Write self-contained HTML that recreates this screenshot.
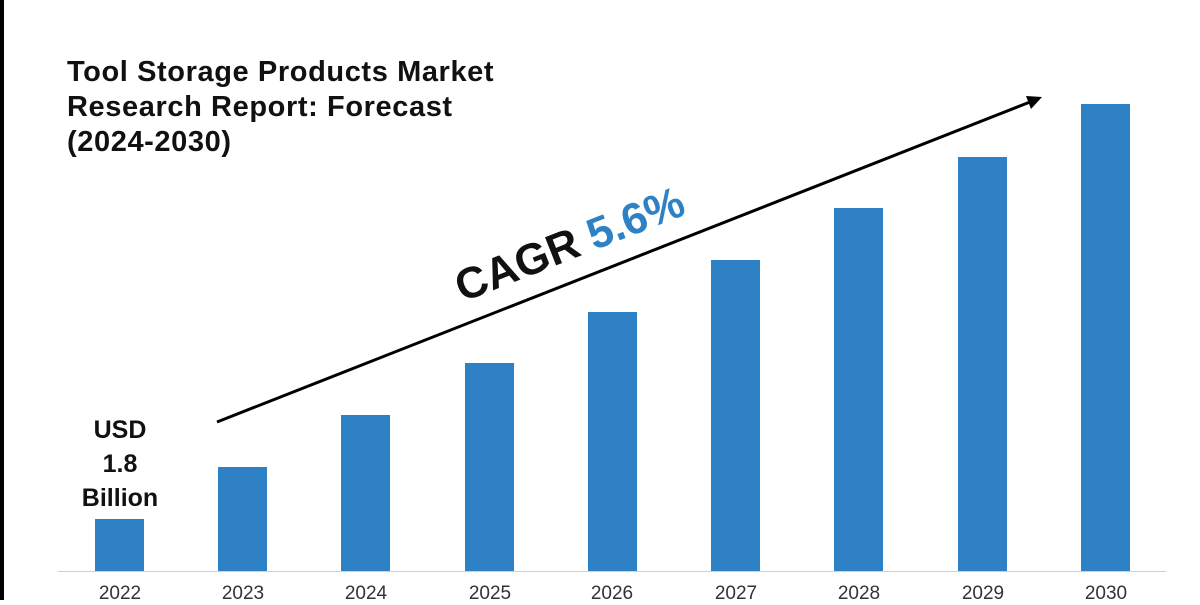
<!DOCTYPE html>
<html><head><style>
body{margin:0;width:1200px;height:600px;background:#fff;overflow:hidden;position:relative;font-family:"Liberation Sans",sans-serif}
.bar{position:absolute;background:#2e81c4;width:49px;bottom:29px}
.yr{position:absolute;top:583px;width:80px;text-align:center;font-size:19px;color:#333}
.t{position:absolute;left:67px;top:55px;font-size:29px;font-weight:bold;line-height:35px;color:#111;letter-spacing:0.6px}
.u{position:absolute;left:70px;top:413px;width:100px;text-align:center;font-size:25px;font-weight:bold;line-height:34px;color:#111}
</style></head><body>
<div style="position:absolute;left:0;top:0;width:4px;height:600px;background:#000"></div>
<div style="position:absolute;left:58px;top:571px;width:1108px;height:1px;background:#d0d0d0"></div>
<div class="t">Tool Storage Products Market<br>Research Report: Forecast<br>(2024-2030)</div>
<div class="u">USD<br>1.8<br>Billion</div>
<div class="bar" style="left:95px;top:519px;height:52px"></div>
<div class="bar" style="left:218px;top:467px;height:104px"></div>
<div class="bar" style="left:341px;top:415px;height:156px"></div>
<div class="bar" style="left:465px;top:363px;height:208px"></div>
<div class="bar" style="left:588px;top:312px;height:259px"></div>
<div class="bar" style="left:711px;top:260px;height:311px"></div>
<div class="bar" style="left:834px;top:208px;height:363px"></div>
<div class="bar" style="left:958px;top:157px;height:414px"></div>
<div class="bar" style="left:1081px;top:104px;height:467px"></div>
<div class="yr" style="left:80px">2022</div>
<div class="yr" style="left:203px">2023</div>
<div class="yr" style="left:326px">2024</div>
<div class="yr" style="left:450px">2025</div>
<div class="yr" style="left:572px">2026</div>
<div class="yr" style="left:696px">2027</div>
<div class="yr" style="left:819px">2028</div>
<div class="yr" style="left:943px">2029</div>
<div class="yr" style="left:1066px">2030</div>
<svg width="1200" height="600" style="position:absolute;left:0;top:0">
<line x1="217" y1="422" x2="1030" y2="102" stroke="#000" stroke-width="3"/>
<polygon points="1042,97 1026,96 1031,109" fill="#000"/>
<text x="575" y="258" transform="rotate(-21.5 575 258)" text-anchor="middle" font-family="Liberation Sans, sans-serif" font-size="44" font-weight="bold" fill="#111">CAGR <tspan fill="#2e81c4">5.6%</tspan></text>
</svg>
</body></html>
